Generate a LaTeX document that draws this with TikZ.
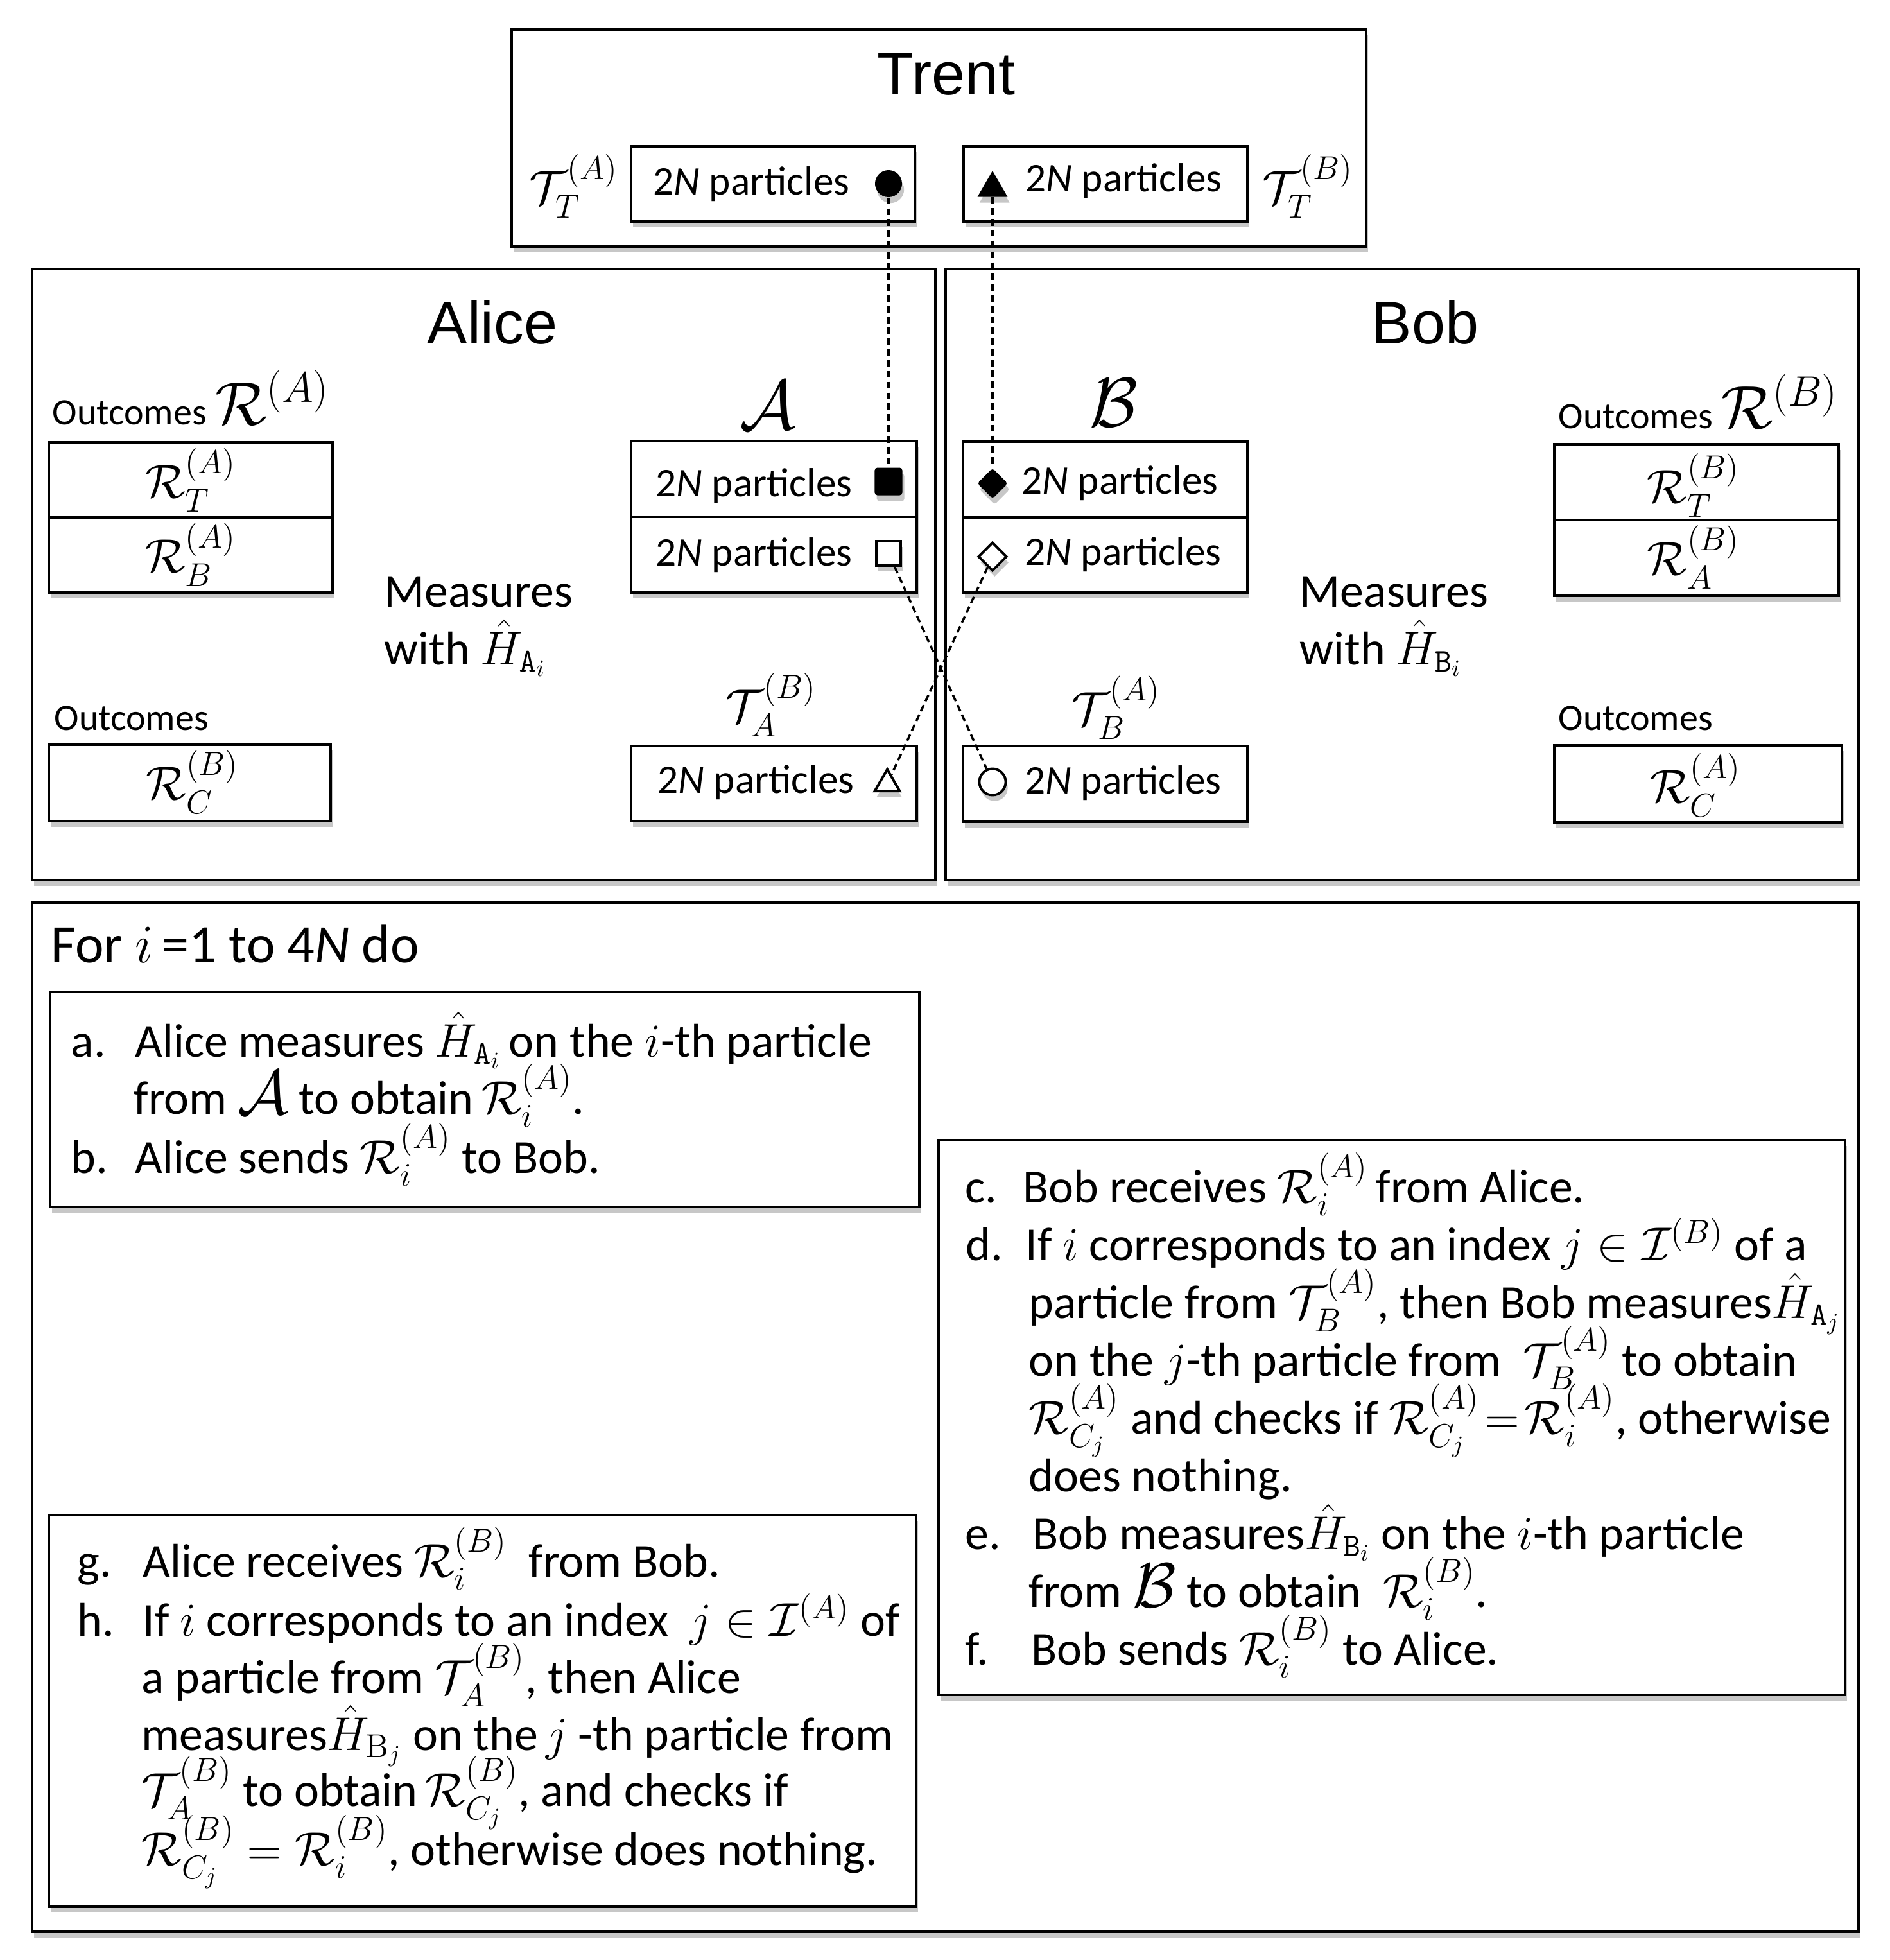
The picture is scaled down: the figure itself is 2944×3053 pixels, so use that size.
\RequirePackage{fix-cm}
\documentclass[tikz,border=0pt]{standalone}
\usepackage{amsmath}
\usepackage[no-math]{fontspec}
\setmainfont{Carlito}
\newfontfamily\titlefont{Liberation Sans}
\usetikzlibrary{shapes.geometric,shadows}
\begin{document}
\begin{tikzpicture}[x=0.01cm,y=-0.01cm,
  shd/.style={drop shadow={shadow xshift=0.9pt,shadow yshift=-2.6pt,opacity=0.4,fill=black!55}},
  frame/.style={draw=black,line width=1.15pt,fill=white,shd},
  title/.style={font=\titlefont\fontsize{26.6}{30}\selectfont,inner sep=0pt,anchor=base},
  body/.style={font=\fontsize{21}{25}\selectfont,inner sep=0pt,anchor=base west},
  part/.style={font=\fontsize{18}{22}\selectfont,inner sep=0pt,anchor=base west},
  outc/.style={font=\fontsize{16.5}{20}\selectfont,inner sep=0pt,anchor=base west},
  mlab/.style={font=\fontsize{21}{25}\selectfont,inner sep=0pt},
  biglab/.style={font=\fontsize{31}{31}\selectfont,inner sep=0pt},
  link/.style={line width=1pt,dash pattern=on 3pt off 1.8pt},
  mkfill/.style={fill=black,draw=none,inner sep=0pt,shd},
  mkopen/.style={draw=black,fill=white,line width=1.1pt,inner sep=0pt,shd}]
\useasboundingbox (0,0) rectangle (2944,3053);

% ---------------- Trent ----------------
\draw[frame] (797,46) rectangle (2128,384);
\node[title] (trent) at (1474,147) {Trent};
\draw[frame] (983,228) rectangle (1425,345);
\draw[frame] (1501,228) rectangle (1943,345);
\node[part] (tpa) at (1017,303) {2\textit{N} particles};
\node[part] (tpb) at (1597,298) {2\textit{N} particles};
\node[mlab] (tta) at (894,290) {$\mathcal{T}_T^{(A)}$};
\node[mlab] (ttb) at (2037,290) {$\mathcal{T}_T^{(B)}$};
\node[mkfill,circle,minimum size=0.42cm] (tcirc) at (1384,286) {};
\node[mkfill,regular polygon,regular polygon sides=3,minimum size=0.54cm] (ttri) at (1546,293) {};

% ---------------- Alice ----------------
\draw[frame] (50,419) rectangle (1457,1371);
\node[title] (alice) at (767,535) {Alice};
\node[outc] (outa) at (81,661) {Outcomes {\fontsize{27}{27}\selectfont$\mathcal{R}^{(A)}$}};
\draw[frame] (76,689) rectangle (518,806);
\draw[frame] (76,806) rectangle (518,923);
\node[mlab] (rta) at (297,748) {$\mathcal{R}_T^{(A)}$};
\node[mlab] (rba) at (297,864) {$\mathcal{R}_B^{(A)}$};
\node[body] (measa1) at (598,945) {Measures};
\node[body] (measa2) at (598,1035) {with $\hat{H}_{\mathtt{A}_i}$};
\node[outc] (outca) at (84,1137) {Outcomes};
\draw[frame] (76,1160) rectangle (515,1279);
\node[mlab] (rcb) at (300,1218) {$\mathcal{R}_C^{(B)}$};
\node[biglab] (cala) at (1196,631) {$\mathcal{A}$};
\draw[frame] (983,687) rectangle (1428,805);
\draw[frame] (983,805) rectangle (1428,923);
\node[part] (pa1) at (1021,773) {2\textit{N} particles};
\node[part] (pa2) at (1021,881) {2\textit{N} particles};
\node[mlab] (tab) at (1201,1098) {$\mathcal{T}_A^{(B)}$};
\draw[frame] (983,1162) rectangle (1428,1279);
\node[part] (pa3) at (1024,1235) {2\textit{N} particles};
\node[mkfill,rectangle,rounded corners=1.2pt,minimum size=0.43cm] (fsq) at (1384,750) {};
\node[mkopen,rectangle,minimum size=0.38cm] (osq) at (1384,862) {};
\node[mkopen,regular polygon,regular polygon sides=3,minimum size=0.45cm] (otri) at (1382,1221) {};

% ---------------- Bob ----------------
\draw[frame] (1473,419) rectangle (2895,1371);
\node[title] (bob) at (2220,535) {Bob};
\node[biglab] (calb) at (1735,627) {$\mathcal{B}$};
\draw[frame] (1500,688) rectangle (1943,806);
\draw[frame] (1500,806) rectangle (1943,923);
\node[part] (pb1) at (1591,769) {2\textit{N} particles};
\node[part] (pb2) at (1596,880) {2\textit{N} particles};
\node[mlab] (tba) at (1739,1102) {$\mathcal{T}_B^{(A)}$};
\draw[frame] (1500,1162) rectangle (1943,1280);
\node[part] (pb3) at (1596,1236) {2\textit{N} particles};
\node[body] (measb1) at (2024,945) {Measures};
\node[body] (measb2) at (2024,1035) {with $\hat{H}_{\mathtt{B}_i}$};
\node[outc] (outb) at (2427,667) {Outcomes {\fontsize{27}{27}\selectfont$\mathcal{R}^{(B)}$}};
\draw[frame] (2421,692) rectangle (2864,810);
\draw[frame] (2421,810) rectangle (2864,928);
\node[mlab] (rtb) at (2638,756) {$\mathcal{R}_T^{(B)}$};
\node[mlab] (rab) at (2638,868) {$\mathcal{R}_A^{(B)}$};
\node[outc] (outcb) at (2427,1137) {Outcomes};
\draw[frame] (2421,1161) rectangle (2869,1281);
\node[mlab] (rca) at (2641,1223) {$\mathcal{R}_C^{(A)}$};
\node[mkfill,diamond,rounded corners=1.2pt,minimum width=0.48cm,minimum height=0.48cm] (fdia) at (1546,753) {};
\node[mkopen,diamond,minimum width=0.45cm,minimum height=0.45cm] (odia) at (1546,867) {};
\node[mkopen,circle,minimum size=0.41cm] (ocirc) at (1546,1218) {};

% ---------------- connectors ----------------
\draw[link] (tcirc) -- (fsq);
\draw[link] (ttri) -- (fdia);
\draw[link] (osq) -- (ocirc);
\draw[link] (odia) -- (otri);

% ---------------- protocol ----------------
\draw[frame] (50,1406) rectangle (2895,3009);
\node[body,font=\fontsize{24}{28}\selectfont] (forl) at (79,1499) {For $i$\,=1 to 4\textit{N} do};

\draw[frame] (78,1545) rectangle (1432,1880);
\node[body] (la) at (110,1646) {a.};
\node[body] (la1) at (210,1646) {Alice measures $\hat{H}_{\mathtt{A}_i}$\,on the $i$-th particle};
\node[body] (la2) at (208,1735) {from {\fontsize{28}{28}\selectfont$\mathcal{A}$} to obtain\,$\mathcal{R}_i^{(A)}$.};
\node[body] (lb) at (110,1827) {b.};
\node[body] (lb1) at (210,1827) {Alice sends $\mathcal{R}_i^{(A)}$ to Bob.};

\draw[frame] (1462,1776) rectangle (2874,2640);
\node[body] (lc) at (1503,1873) {c.};
\node[body] (lc1) at (1593,1873) {Bob receives $\mathcal{R}_i^{(A)}$\,from Alice.};
\node[body] (ld) at (1504,1963) {d.};
\node[body] (ld1) at (1597,1963) {If $i$ corresponds to an index $j\in\mathcal{I}^{(B)}$ of a};
\node[body] (ld2) at (1602,2053) {particle from $\mathcal{T}_B^{(A)}$, then Bob measures$\hat{H}_{\mathtt{A}_j}$};
\node[body] (ld3) at (1602,2143) {on the $j$-th particle from \ $\mathcal{T}_B^{(A)}$ to obtain};
\node[body] (ld4) at (1602,2233) {$\mathcal{R}_{C_j}^{(A)}$ and checks if $\mathcal{R}_{C_j}^{(A)}\!=\!\mathcal{R}_i^{(A)}$, otherwise};
\node[body] (ld5) at (1602,2323) {does nothing.};
\node[body] (le) at (1503,2413) {e.};
\node[body] (le1) at (1608,2413) {Bob measures$\hat{H}_{\mathtt{B}_i}$ on the $i$-th particle};
\node[body] (le2) at (1602,2503) {from {\fontsize{28}{28}\selectfont$\mathcal{B}$} to obtain \ $\mathcal{R}_i^{(B)}$.};
\node[body] (lf) at (1503,2593) {f.};
\node[body] (lf1) at (1606,2593) {Bob sends $\mathcal{R}_i^{(B)}$ to Alice.};

\draw[frame] (76,2360) rectangle (1427,2970);
\node[body] (lg) at (120,2456) {g.};
\node[body] (lg1) at (222,2456) {Alice receives $\mathcal{R}_i^{(B)}$\ \ from Bob.};
\node[body] (lh) at (120,2548) {h.};
\node[body] (lh1) at (222,2548) {If $i$ corresponds to an index \ $j\in\mathcal{I}^{(A)}$ of};
\node[body] (lh2) at (220,2637) {a particle from $\mathcal{T}_A^{(B)}$, then Alice};
\node[body] (lh3) at (220,2726) {measures$\hat{H}_{\mathrm{B}_j}$ on the$\,j$ -th particle from};
\node[body] (lh4) at (220,2813) {$\mathcal{T}_A^{(B)}$ to obtain$\,\mathcal{R}_{C_j}^{(B)}$, and checks if};
\node[body] (lh5) at (220,2905) {$\mathcal{R}_{C_j}^{(B)}=\mathcal{R}_i^{(B)}$, otherwise does nothing.};
\end{tikzpicture}
\end{document}
